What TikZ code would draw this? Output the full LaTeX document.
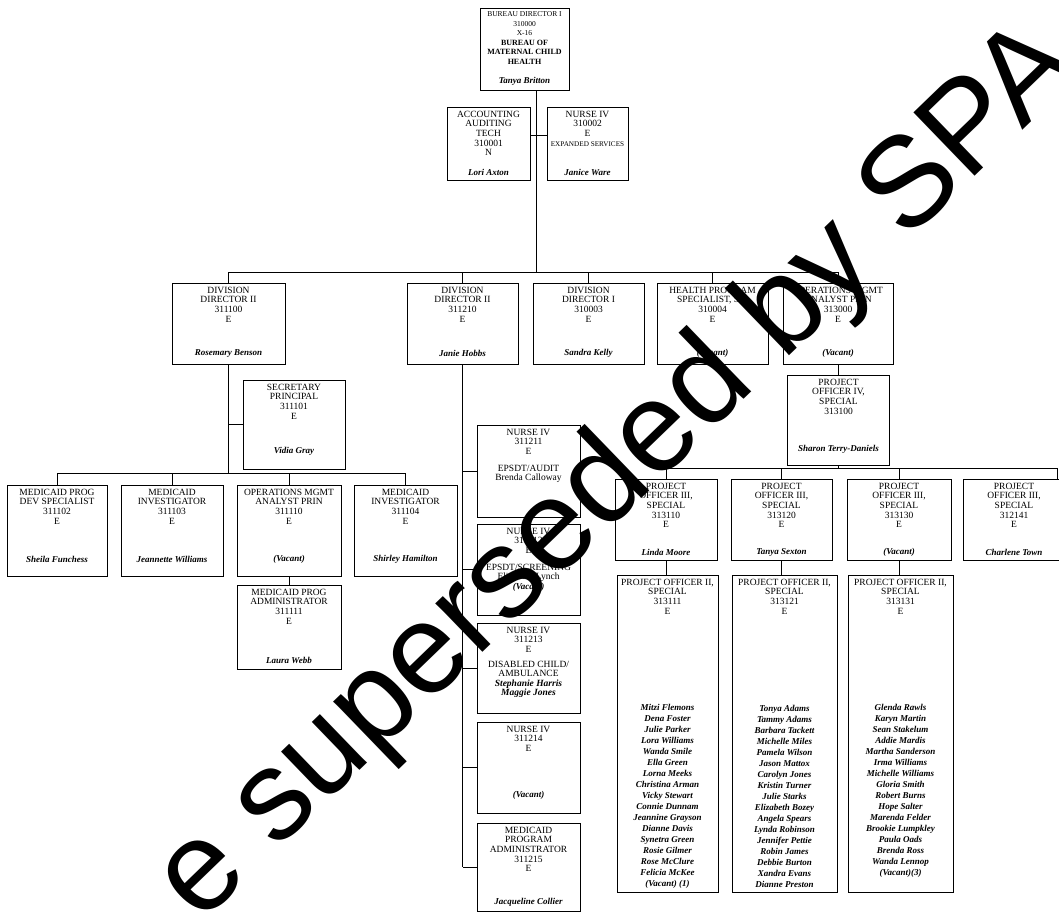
\documentclass[tikz,border=0pt]{standalone}
\usepackage{fontspec}
\setmainfont{Liberation Serif}
\newfontfamily\wmfont{Liberation Sans}
\newcommand\titlef{\fontsize{9.5}{9.6}\selectfont}
\newcommand\namef{\fontsize{9}{11}\selectfont\bfseries\itshape}
\newcommand\ob[8]{\node[obox] (#1) at (#2,#3) {\parbox[c][#5pt][s]{#4pt}{\centering\vspace*{4pt}\titlef #7\par\vfill\namef #8\par\vspace*{#6pt}}};}
\begin{document}
\begin{tikzpicture}[x=1pt,y=-1pt,
  obox/.style={draw, line width=0.9pt, inner sep=0pt, fill=white},
  link/.style={line width=0.9pt},
  wm/.style={anchor=base west, rotate=44, inner sep=0pt, text=black, font=\wmfont\fontsize{128}{128}\selectfont}]
\fill[white] (0,0) rectangle (1059,913);
\useasboundingbox (0,0) rectangle (1059,913);

% top
\ob{bd}{524.5}{49}{89}{82}{5}{{\fontsize{7.5}{9.5}\selectfont BUREAU DIRECTOR I\\310000\\X-16\\}{\fontsize{8}{9.5}\selectfont\bfseries BUREAU OF\\MATERNAL CHILD\\HEALTH}}{Tanya Britton}
\ob{acc}{488.5}{143.5}{83}{73}{4}{ACCOUNTING\\AUDITING\\TECH\\310001\\N}{Lori Axton}
\ob{nse}{587.5}{143.5}{81}{73}{4}{NURSE IV\\310002\\E\\{\fontsize{7.2}{9.6}\selectfont EXPANDED SERVICES}}{Janice Ware}

% row 2
\ob{dda}{228.5}{323.5}{113}{81}{7}{DIVISION\\DIRECTOR II\\311100\\E}{Rosemary Benson}
\ob{ddb}{462.5}{323.5}{111}{81}{7}{DIVISION\\DIRECTOR II\\311210\\E}{Janie Hobbs}
\ob{ddc}{588.5}{323.5}{111}{81}{7}{DIVISION\\DIRECTOR I\\310003\\E}{Sandra Kelly}
\ob{hps}{712.5}{323.5}{111}{81}{7}{HEALTH PROGRAM\\SPECIALIST, SR.\\310004\\E}{(Vacant)}
\ob{omb}{838}{323.5}{110}{81}{7}{OPERATIONS MGMT\\ANALYST PRIN\\313000\\E}{(Vacant)}

% left branch
\ob{sec}{294}{424.5}{102}{89}{14}{SECRETARY\\PRINCIPAL\\311101\\E}{Vidia Gray}
\ob{mpd}{57}{530.5}{100}{91}{13}{MEDICAID PROG\\DEV SPECIALIST\\311102\\E}{Sheila Funchess}
\ob{mi1}{172}{530.5}{102}{91}{13}{MEDICAID\\INVESTIGATOR\\311103\\E}{Jeannette Williams}
\ob{oma}{289}{530.5}{104}{91}{13}{OPERATIONS MGMT\\ANALYST PRIN\\311110\\E}{(Vacant)}
\ob{mi2}{405.5}{530.5}{103}{91}{13}{MEDICAID\\INVESTIGATOR\\311104\\E}{Shirley Hamilton}
\ob{mpa}{289}{627}{104}{84}{5}{MEDICAID PROG\\ADMINISTRATOR\\311111\\E}{Laura Webb}

% nurse column
\ob{nua}{528.5}{471}{103}{92}{4}{NURSE IV\\311211\\E\\[7pt]EPSDT/AUDIT\\Brenda Calloway}{}
\ob{nub}{528.5}{569.5}{103}{91}{4}{NURSE IV\\311212\\E\\[7pt]EPSDT/SCREENING\\Elizabeth Lynch\\{\namef (Vacant)}}{}
\ob{nuc}{528.5}{668}{103}{90}{4}{NURSE IV\\311213\\E\\[5pt]DISABLED CHILD/\\AMBULANCE\\{\bfseries\itshape Stephanie Harris\\Maggie Jones}}{}
\ob{nud}{528.5}{767.5}{103}{91}{14}{NURSE IV\\311214\\E}{(Vacant)}
\ob{mpb}{528.5}{867}{103}{88}{5}{MEDICAID\\PROGRAM\\ADMINISTRATOR\\311215\\E}{Jacqueline Collier}

% right branch
\ob{po4}{838.5}{420}{102}{90}{12}{PROJECT\\OFFICER IV,\\SPECIAL\\313100}{Sharon Terry-Daniels}
\ob{pa}{666}{519.5}{102}{81}{4}{PROJECT\\OFFICER III,\\SPECIAL\\313110\\E}{Linda Moore}
\ob{pb}{781.5}{519.5}{101}{81}{4}{PROJECT\\OFFICER III,\\SPECIAL\\313120\\E}{Tanya Sexton}
\ob{pc}{899}{519.5}{104}{81}{4}{PROJECT\\OFFICER III,\\SPECIAL\\313130\\E}{(Vacant)}
\ob{pd}{1014}{519.5}{102}{81}{4}{PROJECT\\OFFICER III,\\SPECIAL\\312141\\E}{Charlene Town}

\ob{qa}{667.5}{733.5}{101}{317}{4}{PROJECT OFFICER II,\\SPECIAL\\313111\\E}{Mitzi Flemons\\Dena Foster\\Julie Parker\\Lora Williams\\Wanda Smile\\Ella Green\\Lorna Meeks\\Christina Arman\\Vicky Stewart\\Connie Dunnam\\Jeannine Grayson\\Dianne Davis\\Synetra Green\\Rosie Gilmer\\Rose McClure\\Felicia McKee\\(Vacant) (1)}
\ob{qb}{784.5}{733.5}{105}{317}{4}{PROJECT OFFICER II,\\SPECIAL\\313121\\E}{Tonya Adams\\Tammy Adams\\Barbara Tackett\\Michelle Miles\\Pamela Wilson\\Jason Mattox\\Carolyn Jones\\Kristin Turner\\Julie Starks\\Elizabeth Bozey\\Angela Spears\\Lynda Robinson\\Jennifer Pettie\\Robin James\\Debbie Burton\\Xandra Evans\\Dianne Preston}
\ob{qc}{900.5}{733.5}{105}{317}{15}{PROJECT OFFICER II,\\SPECIAL\\313131\\E}{Glenda Rawls\\Karyn Martin\\Sean Stakelum\\Addie Mardis\\Martha Sanderson\\Irma Williams\\Michelle Williams\\Gloria Smith\\Robert Burns\\Hope Salter\\Marenda Felder\\Brookie Lumpkley\\Paula Oads\\Brenda Ross\\Wanda Lennop\\(Vacant)(3)}

% connectors
\coordinate (bus1) at (536,272);
\coordinate (lk) at (536,135);
\draw[link] (bd.south -| bus1) -- (bus1);
\draw[link] (acc.east |- lk) -- (nse.west |- lk);
\draw[link] (dda.north |- bus1) -- (omb.north |- bus1);
\foreach \n in {dda,ddb,ddc,hps,omb} \draw[link] (\n.north) -- (\n.north |- bus1);

\coordinate (bus3) at (228.5,473);
\draw[link] (dda.south) -- (dda.south |- bus3);
\draw[link] (dda.south |- sec.west) -- (sec.west);
\draw[link] (mpd.north |- bus3) -- (mi2.north |- bus3);
\foreach \n in {mpd,mi1,oma,mi2} \draw[link] (\n.north) -- (\n.north |- bus3);
\draw[link] (oma.south) -- (mpa.north);

\draw[link] (ddb.south) -- (ddb.south |- mpb.west);
\foreach \n in {nua,nub,nuc,nud,mpb} \draw[link] (ddb.south |- \n.west) -- (\n.west);

\draw[link] (omb.south) -- (omb.south |- po4.north);
\coordinate (bus4) at (838.5,468);
\coordinate (pdc) at ([xshift=43pt]pd.north);
\draw[link] (po4.south) -- (po4.south |- bus4);
\draw[link] (pa.north |- bus4) -- (pdc |- bus4) -- (pdc);
\foreach \n in {pa,pb,pc} \draw[link] (\n.north) -- (\n.north |- bus4);
\draw[link] (pa.south) -- (pa.south |- qa.north);
\draw[link] (pb.south) -- (pb.south |- qb.north);
\draw[link] (pc.south) -- (pc.south |- qc.north);

% watermark
\begin{scope}
\clip (0,0) rectangle (1059,913);
\node[wm] (wmk) at (200,925) {e superseded by SPA};
\end{scope}
\end{tikzpicture}
\end{document}
